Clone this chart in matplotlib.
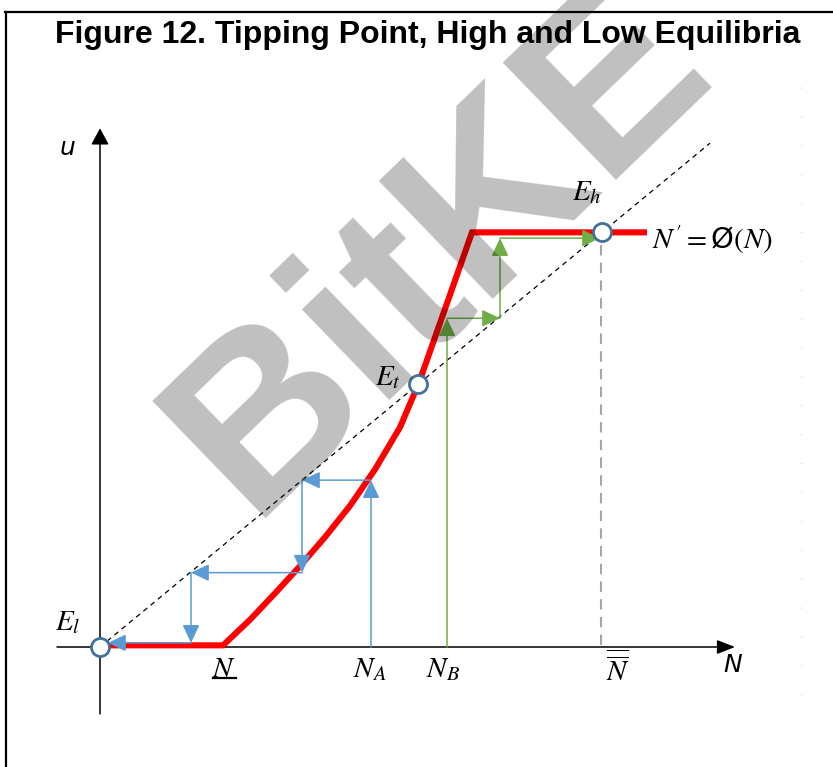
import matplotlib.pyplot as plt
from matplotlib.patches import FancyArrowPatch
from matplotlib.lines import Line2D

plt.rcParams['mathtext.fontset'] = 'stix'

# reaction curve N' = phi(N) (N on x, u on y; 45-degree line is u = N)
phi_N = [0.05, 1.23, 1.50, 1.75, 2.00, 2.25, 2.50, 2.75, 3.00, 3.19, 3.72, 5.47]
phi_u = [0.02, 0.02, 0.33, 0.65, 0.98, 1.33, 1.71, 2.15, 2.66, 3.20, 5.02, 5.02]

# cobweb paths (low equilibrium from N_A, high equilibrium from N_B)
blue_N = [2.71, 2.71, 2.02, 2.02, 0.91, 0.91, 0.08]
blue_u = [0.0, 2.02, 2.02, 0.90, 0.90, 0.05, 0.05]
green_N = [3.47, 3.47, 4.00, 4.00, 5.00]
green_u = [0.0, 3.98, 3.98, 4.95, 4.95]

# equilibria
eq_N = [0.0, 3.18, 5.02]
eq_u = [0.0, 3.18, 5.02]
eq_labels = ['$E_l$', '$E_t$', '$E_h$']

# marked points on the N axis
tick_N = [1.24, 2.70, 3.43, 5.18]
tick_labels = ['$N$', '$N_A$', '$N_B$', r'$\overline{\overline{N}}$']
N_bar = 5.01
N_top = 5.01
diag_end = 6.1

fig = plt.figure(figsize=(8.33, 7.67), dpi=100)
ax = fig.add_axes([0, 0, 1, 1])
ax.set_xlim(-1.0, 7.33)
ax.set_ylim(-1.4528, 7.833)
ax.axis('off')

# frame lines and page marks
fig.add_artist(Line2D([0.007, 0.007], [0, 0.984], color='black', lw=1.6))
fig.add_artist(Line2D([0.006, 1.0], [0.984, 0.984], color='black', lw=1.6))
ax.plot([7.01, 7.01], [6.78, -0.82], color='#d0d0d0', lw=0.8, linestyle=(0, (1, 25)))

fig.text(0.514, 0.954, 'Figure 12. Tipping Point, High and Low Equilibria',
         ha='center', va='center', fontsize=23, fontweight='bold',
         family='Liberation Sans')


def arrow(p0, p1, color, lw, hl, hw, z=4):
    a = FancyArrowPatch(p0, p1, arrowstyle='-|>', mutation_scale=1,
                        shrinkA=0, shrinkB=0, color=color, lw=lw, zorder=z)
    a.set_arrowstyle('-|>', head_length=hl, head_width=hw)
    ax.add_patch(a)


# axes with arrow heads
arrow((0, -0.81), (0, 6.28), 'black', 1.1, 10, 5.4, 2)
arrow((-0.43, 0), (6.35, 0), 'black', 1.1, 11, 4.3, 2)

# 45-degree line
ax.plot([0, diag_end], [0, diag_end], color='black', lw=0.9, linestyle=(0, (4, 3.5)), zorder=2)

# N-bar guide
ax.plot([N_bar, N_bar], [0.02, N_top - 0.1], color='#a6a6a6', lw=1.5,
        linestyle=(0, (5, 3.5)), zorder=2)

ax.plot(phi_N, phi_u, color='#ff0000', lw=4.4, solid_joinstyle='miter',
        solid_capstyle='butt', zorder=3)


def cobweb(xs, ys, color):
    for i in range(len(xs) - 1):
        arrow((xs[i], ys[i]), (xs[i + 1], ys[i + 1]), color, 1.1, 11, 5.2)


cobweb(blue_N, blue_u, '#5b9bd5')
cobweb(green_N, green_u, '#70ad47')

ax.plot(eq_N, eq_u, 'o', ms=13, mfc='white', mec='#41719c', mew=2, zorder=5)

label_pos = [(-0.32, 0.30), (2.88, 3.27), (4.87, 5.51)]
for (x, y), s in zip(label_pos, eq_labels):
    ax.text(x, y, s, fontsize=21, ha='center', va='center')

for x, s in zip(tick_N, tick_labels):
    ax.text(x, -0.27, s, fontsize=21, ha='center', va='center')
# underline of the lower threshold N
ax.plot([1.13, 1.36], [-0.375, -0.375], color='black', lw=1.6)

ax.text(5.52, 4.93, "$N' = $Ø$(N)$", fontsize=21, ha='left', va='center')
ax.text(-0.32, 6.04, 'u', fontsize=18, style='italic', ha='center', va='center')
ax.text(6.33, -0.22, 'N', fontsize=18, style='italic', ha='center', va='center')

# watermark
ax.text(3.4, 4.81, 'BitKE', fontsize=171, fontweight='bold', family='Liberation Sans',
        color='black', alpha=0.25, rotation=44, rotation_mode='anchor',
        ha='center', va='center', zorder=10)

fig.savefig('out.png', dpi=100)
